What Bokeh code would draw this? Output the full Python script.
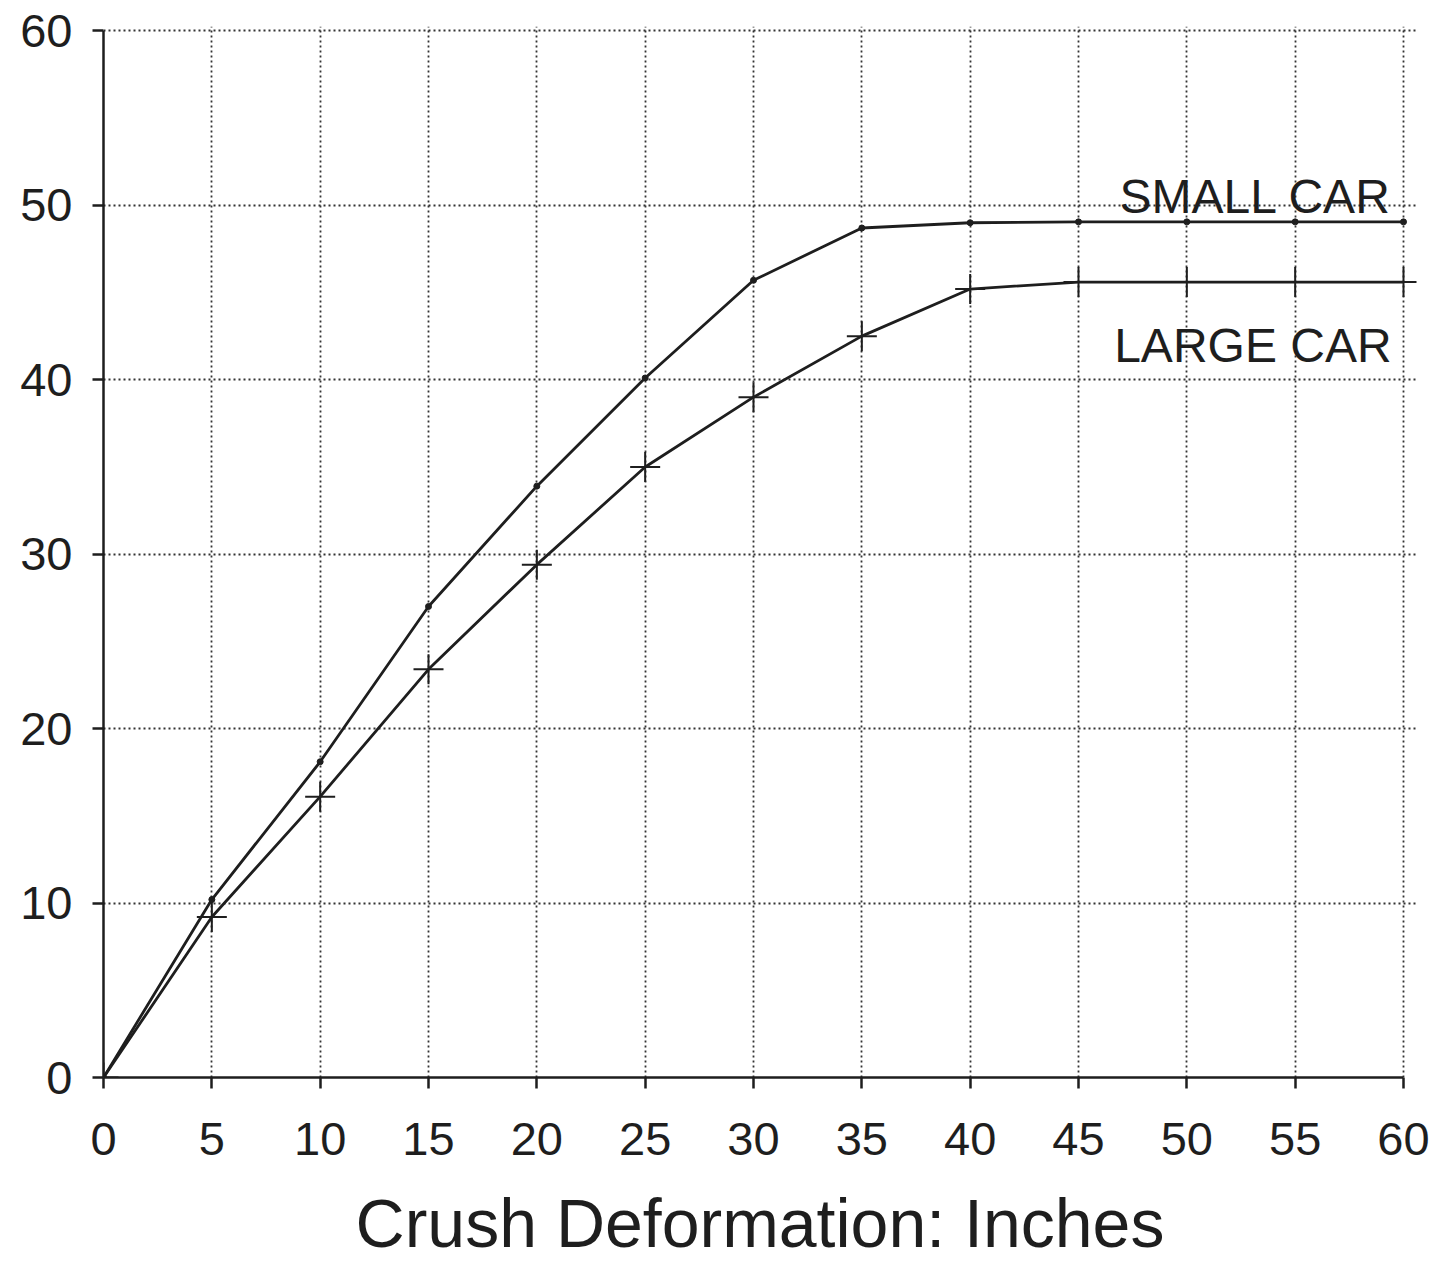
from bokeh.plotting import figure
from bokeh.models import FixedTicker, ColumnDataSource
from bokeh.core.properties import value
from bokeh.embed import file_html
from bokeh.resources import INLINE

# Data
crush = [0, 5, 10, 15, 20, 25, 30, 35, 40, 45, 50, 55, 60]
small_car = [0, 10.2, 18.1, 27.0, 33.9, 40.1, 45.7, 48.7, 49.0, 49.05, 49.05, 49.05, 49.05]
large_car = [0, 9.2, 16.1, 23.4, 29.4, 35.0, 39.0, 42.5, 45.2, 45.6, 45.6, 45.6, 45.6]
x_ticks = [0, 5, 10, 15, 20, 25, 30, 35, 40, 45, 50, 55, 60]
y_ticks = [0, 10, 20, 30, 40, 50, 60]
series_labels = ["SMALL CAR", "LARGE CAR"]
label_x = [59.45, 59.45]
label_y = [50.5, 41.95]

FONT = "Liberation Sans"
INK = "#1e1e1e"

p = figure(width=1430, height=1263, output_backend="svg", toolbar_location=None,
           x_range=(0, 60.6), y_range=(0, 60.25),
           min_border_left=103, min_border_right=14, min_border_top=26, min_border_bottom=185)
p.outline_line_color = None
p.background_fill_color = "white"
p.border_fill_color = "white"

for ax, ticks in ((p.xaxis[0], x_ticks), (p.yaxis[0], y_ticks)):
    ax.ticker = FixedTicker(ticks=ticks)
    ax.bounds = (0, 60)
    ax.axis_line_color = INK
    ax.axis_line_width = 2.5
    ax.major_tick_line_color = INK
    ax.major_tick_line_width = 2.5
    ax.major_tick_out = 11
    ax.major_tick_in = 0
    ax.minor_tick_line_color = None
    ax.major_label_text_font = FONT
    ax.major_label_text_font_size = "47px"
    ax.major_label_text_color = INK

p.xaxis.major_label_standoff = 34
p.yaxis.major_label_standoff = 20
p.xaxis.axis_label = "Crush Deformation: Inches"
p.xaxis.axis_label_text_font = FONT
p.xaxis.axis_label_text_font_size = "68px"
p.xaxis.axis_label_text_font_style = "normal"
p.xaxis.axis_label_text_color = INK
p.xaxis.axis_label_standoff = 27

for g in (p.xgrid[0], p.ygrid[0]):
    g.grid_line_color = "#333333"
    g.grid_line_width = 1.8
    g.grid_line_dash = "2 3"

src = ColumnDataSource(dict(x=crush, s=small_car, l=large_car))
p.line("x", "s", source=src, line_color=INK, line_width=2.8)
p.line("x", "l", source=src, line_color=INK, line_width=2.8)
p.scatter("x", "s", source=src, marker="circle", size=6, fill_color=INK, line_color=INK)
p.scatter("x", "l", source=src, marker="cross", size=30, line_color=INK, line_width=2)

lsrc = ColumnDataSource(dict(x=label_x, y=label_y, t=series_labels))
p.text("x", "y", text="t", source=lsrc, text_font=value(FONT), text_font_size="48px",
       text_align="right", text_baseline="middle", text_color=INK)

open("out.html", "w").write(file_html(p, INLINE))
